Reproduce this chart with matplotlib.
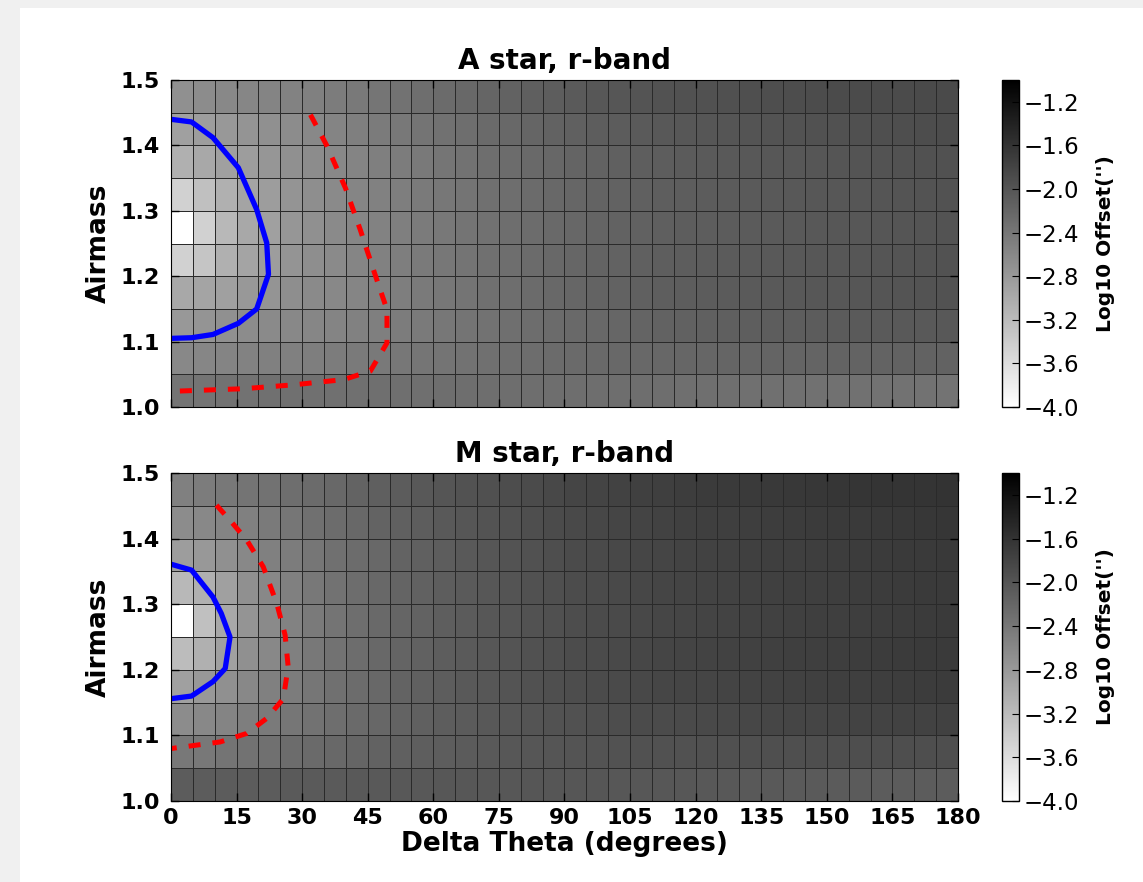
import numpy as np
import matplotlib
matplotlib.use('Agg')
import matplotlib.pyplot as plt
from matplotlib.patches import Rectangle

# grid of the maps (cell edges)
theta_edges = np.arange(0, 185, 5)
airmass_edges = np.linspace(1.0, 1.5, 11)

# log10 offset, rows from airmass 1.00-1.05 (first) to 1.45-1.50 (last)
a_star = np.array([
    [-2.36,-2.36,-2.34,-2.34,-2.32,-2.32,-2.32,-2.32,-2.32,-2.31,-2.31,-2.31,-2.30,-2.30,-2.30,-2.30,-2.29,-2.29,-2.29,-2.29,-2.30,-2.30,-2.30,-2.31,-2.31,-2.31,-2.32,-2.32,-2.32,-2.33,-2.33,-2.33,-2.34,-2.34,-2.34,-2.35],
    [-2.60,-2.58,-2.55,-2.53,-2.51,-2.51,-2.48,-2.46,-2.44,-2.42,-2.40,-2.38,-2.36,-2.34,-2.32,-2.30,-2.28,-2.26,-2.25,-2.24,-2.23,-2.22,-2.21,-2.20,-2.20,-2.19,-2.19,-2.18,-2.18,-2.18,-2.17,-2.17,-2.17,-2.16,-2.16,-2.16],
    [-2.79,-2.74,-2.69,-2.65,-2.62,-2.60,-2.58,-2.55,-2.52,-2.49,-2.46,-2.43,-2.40,-2.37,-2.34,-2.31,-2.28,-2.26,-2.24,-2.22,-2.20,-2.18,-2.16,-2.14,-2.13,-2.12,-2.11,-2.10,-2.09,-2.08,-2.07,-2.06,-2.06,-2.05,-2.05,-2.04],
    [-2.98,-2.93,-2.88,-2.79,-2.74,-2.67,-2.62,-2.60,-2.56,-2.52,-2.48,-2.44,-2.40,-2.36,-2.32,-2.29,-2.26,-2.23,-2.20,-2.17,-2.15,-2.13,-2.11,-2.09,-2.08,-2.07,-2.06,-2.05,-2.04,-2.03,-2.02,-2.01,-2.00,-1.99,-1.98,-1.97],
    [-3.45,-3.31,-3.07,-2.93,-2.84,-2.74,-2.67,-2.62,-2.57,-2.52,-2.48,-2.44,-2.40,-2.36,-2.32,-2.29,-2.26,-2.23,-2.20,-2.17,-2.15,-2.13,-2.11,-2.09,-2.08,-2.07,-2.06,-2.05,-2.04,-2.03,-2.02,-2.01,-2.00,-1.99,-1.98,-1.97],
    [-4.00,-3.45,-3.16,-2.98,-2.88,-2.76,-2.69,-2.62,-2.58,-2.53,-2.49,-2.45,-2.41,-2.37,-2.33,-2.30,-2.27,-2.24,-2.21,-2.18,-2.16,-2.14,-2.12,-2.10,-2.09,-2.08,-2.07,-2.06,-2.05,-2.04,-2.03,-2.02,-2.01,-2.00,-1.99,-1.98],
    [-3.45,-3.26,-3.07,-2.93,-2.84,-2.74,-2.67,-2.62,-2.57,-2.52,-2.48,-2.44,-2.40,-2.36,-2.32,-2.29,-2.26,-2.23,-2.20,-2.17,-2.15,-2.13,-2.11,-2.09,-2.08,-2.07,-2.06,-2.05,-2.04,-2.03,-2.02,-2.01,-2.00,-1.99,-1.98,-1.97],
    [-3.07,-2.98,-2.88,-2.84,-2.76,-2.69,-2.65,-2.60,-2.55,-2.50,-2.46,-2.42,-2.38,-2.34,-2.30,-2.27,-2.24,-2.21,-2.18,-2.15,-2.13,-2.11,-2.09,-2.07,-2.06,-2.05,-2.04,-2.03,-2.02,-2.01,-2.00,-1.99,-1.98,-1.97,-1.96,-1.95],
    [-2.88,-2.84,-2.79,-2.74,-2.69,-2.65,-2.60,-2.55,-2.50,-2.45,-2.41,-2.37,-2.33,-2.29,-2.25,-2.22,-2.19,-2.16,-2.13,-2.10,-2.08,-2.06,-2.04,-2.02,-2.01,-2.00,-1.99,-1.98,-1.97,-1.96,-1.95,-1.94,-1.93,-1.92,-1.91,-1.90],
    [-2.69,-2.65,-2.60,-2.58,-2.55,-2.53,-2.51,-2.46,-2.42,-2.38,-2.34,-2.30,-2.26,-2.22,-2.19,-2.16,-2.12,-2.09,-2.06,-2.03,-2.01,-1.99,-1.97,-1.96,-1.95,-1.94,-1.93,-1.92,-1.91,-1.90,-1.89,-1.89,-1.88,-1.88,-1.87,-1.87],
])

m_star = np.array([
    [-2.08,-2.08,-2.08,-2.08,-2.08,-2.06,-2.06,-2.06,-2.05,-2.05,-2.04,-2.04,-2.03,-2.03,-2.02,-2.02,-2.01,-2.01,-2.01,-2.01,-2.02,-2.02,-2.03,-2.03,-2.04,-2.04,-2.05,-2.05,-2.06,-2.06,-2.07,-2.07,-2.08,-2.08,-2.08,-2.08],
    [-2.41,-2.41,-2.36,-2.34,-2.32,-2.27,-2.25,-2.22,-2.19,-2.16,-2.13,-2.11,-2.09,-2.07,-2.05,-2.03,-2.01,-2.00,-1.99,-1.98,-1.97,-1.96,-1.95,-1.95,-1.94,-1.94,-1.93,-1.93,-1.93,-1.92,-1.92,-1.92,-1.92,-1.92,-1.92,-1.92],
    [-2.65,-2.60,-2.55,-2.48,-2.44,-2.39,-2.34,-2.29,-2.25,-2.21,-2.17,-2.13,-2.10,-2.07,-2.04,-2.01,-1.99,-1.97,-1.95,-1.93,-1.91,-1.89,-1.88,-1.87,-1.86,-1.85,-1.84,-1.83,-1.82,-1.81,-1.80,-1.79,-1.79,-1.78,-1.78,-1.77],
    [-2.88,-2.79,-2.69,-2.60,-2.51,-2.46,-2.39,-2.32,-2.27,-2.22,-2.17,-2.13,-2.09,-2.05,-2.02,-1.99,-1.96,-1.93,-1.91,-1.89,-1.87,-1.85,-1.83,-1.82,-1.81,-1.80,-1.79,-1.78,-1.77,-1.76,-1.75,-1.74,-1.73,-1.72,-1.71,-1.70],
    [-3.21,-3.07,-2.88,-2.69,-2.60,-2.51,-2.41,-2.34,-2.28,-2.23,-2.18,-2.14,-2.10,-2.06,-2.02,-1.99,-1.96,-1.93,-1.90,-1.88,-1.86,-1.84,-1.82,-1.80,-1.79,-1.78,-1.77,-1.76,-1.75,-1.74,-1.73,-1.72,-1.71,-1.70,-1.69,-1.68],
    [-4.00,-3.26,-2.98,-2.74,-2.62,-2.53,-2.44,-2.36,-2.29,-2.24,-2.19,-2.15,-2.11,-2.07,-2.03,-2.00,-1.97,-1.94,-1.91,-1.89,-1.87,-1.85,-1.83,-1.81,-1.80,-1.79,-1.78,-1.77,-1.76,-1.75,-1.74,-1.73,-1.72,-1.71,-1.70,-1.69],
    [-3.16,-3.07,-2.88,-2.69,-2.60,-2.51,-2.41,-2.34,-2.28,-2.23,-2.18,-2.14,-2.10,-2.06,-2.02,-1.99,-1.96,-1.93,-1.90,-1.88,-1.86,-1.84,-1.82,-1.80,-1.79,-1.78,-1.77,-1.76,-1.75,-1.74,-1.73,-1.72,-1.71,-1.70,-1.69,-1.68],
    [-2.84,-2.79,-2.69,-2.60,-2.51,-2.46,-2.39,-2.32,-2.27,-2.22,-2.17,-2.13,-2.09,-2.05,-2.01,-1.98,-1.95,-1.92,-1.89,-1.87,-1.85,-1.83,-1.81,-1.79,-1.78,-1.77,-1.76,-1.75,-1.74,-1.73,-1.72,-1.71,-1.70,-1.69,-1.68,-1.67],
    [-2.65,-2.60,-2.55,-2.51,-2.44,-2.39,-2.32,-2.27,-2.22,-2.17,-2.13,-2.09,-2.05,-2.01,-1.98,-1.95,-1.92,-1.89,-1.86,-1.84,-1.82,-1.80,-1.78,-1.76,-1.75,-1.74,-1.73,-1.72,-1.71,-1.70,-1.69,-1.68,-1.67,-1.66,-1.65,-1.64],
    [-2.51,-2.46,-2.41,-2.36,-2.34,-2.30,-2.26,-2.22,-2.17,-2.12,-2.08,-2.04,-2.00,-1.97,-1.94,-1.91,-1.88,-1.85,-1.82,-1.80,-1.78,-1.76,-1.74,-1.72,-1.70,-1.69,-1.68,-1.67,-1.66,-1.65,-1.64,-1.63,-1.62,-1.61,-1.61,-1.60],
])

# contour lines
a_blue_x = [0, 4.7, 9.6, 15.4, 19.6, 21.9, 22.3, 19.6, 15.4, 9.6, 4.7, 0]
a_blue_y = [1.440, 1.436, 1.412, 1.366, 1.302, 1.251, 1.203, 1.150, 1.128, 1.111, 1.106, 1.105]
a_red_x = [31.9, 35.7, 39.9, 43.3, 46.3, 49.4, 49.4, 45.6, 39.5, 28.1, 16.5, 0]
a_red_y = [1.447, 1.399, 1.335, 1.271, 1.210, 1.149, 1.098, 1.055, 1.042, 1.034, 1.028, 1.024]
m_blue_x = [0, 4.7, 9.6, 11.5, 13.5, 12.4, 9.6, 4.7, 0]
m_blue_y = [1.361, 1.352, 1.311, 1.286, 1.250, 1.202, 1.182, 1.160, 1.156]
m_red_x = [10.4, 13.5, 17.3, 21.1, 24.2, 26.1, 26.8, 25.7, 21.9, 17.3, 11.2, 0]
m_red_y = [1.451, 1.428, 1.398, 1.357, 1.301, 1.253, 1.205, 1.156, 1.126, 1.103, 1.090, 1.080]

titles = ['A star, r-band', 'M star, r-band']
cbar_ticks = [-1.2, -1.6, -2.0, -2.4, -2.8, -3.2, -3.6, -4.0]

fig = plt.figure(figsize=(11.43, 8.82), dpi=100)
fig.patch.set_facecolor('#f0f0f0')
fig.patches.append(Rectangle((20 / 1143, 0), 1, 1 - 8 / 882, transform=fig.transFigure,
                             facecolor='white', edgecolor='none', zorder=-1))

ax_boxes = [[0.1496, 0.5385, 0.6885, 0.3707], [0.1496, 0.0918, 0.6885, 0.3719]]
cb_boxes = [[0.8766, 0.5385, 0.0149, 0.3707], [0.8766, 0.0918, 0.0149, 0.3719]]
maps = [a_star, m_star]
blues = [(a_blue_x, a_blue_y), (m_blue_x, m_blue_y)]
reds = [(a_red_x, a_red_y), (m_red_x, m_red_y)]

for i in range(2):
    ax = fig.add_axes(ax_boxes[i])
    mesh = ax.pcolormesh(theta_edges, airmass_edges, maps[i], cmap='gray_r', vmin=-4.0, vmax=-1.0,
                         edgecolors='#2a2a2a', linewidth=0.6)
    ax.plot(blues[i][0], blues[i][1], color='b', lw=3.8)
    ax.plot(reds[i][0], reds[i][1], color='r', lw=3.6, ls=(0, (2.4, 2.4)))
    ax.set_xlim(0, 180)
    ax.set_ylim(1.0, 1.5)
    ax.set_xticks(np.arange(0, 181, 15))
    ax.set_yticks([1.0, 1.1, 1.2, 1.3, 1.4, 1.5])
    ax.tick_params(direction='in', top=True, right=True, length=6, width=1, labelsize=16)
    ax.tick_params(axis='y', pad=8)
    ax.tick_params(axis='x', pad=5)
    for lab in ax.get_xticklabels() + ax.get_yticklabels():
        lab.set_fontweight('bold')
    ax.set_ylabel('Airmass', fontsize=19, fontweight='bold', labelpad=6)
    ax.set_title(titles[i], fontsize=20, fontweight='bold', pad=8)
    if i == 0:
        ax.set_xticklabels([])
    else:
        ax.set_xlabel('Delta Theta (degrees)', fontsize=19, fontweight='bold', labelpad=2)

    cax = fig.add_axes(cb_boxes[i])
    cb = fig.colorbar(mesh, cax=cax, ticks=cbar_ticks)
    cb.ax.tick_params(direction='in', length=5, labelsize=16.5)
    cb.set_label("Log10 Offset('')", fontsize=14.5, fontweight='bold', labelpad=12)
    cb.outline.set_linewidth(1)

fig.savefig('out.png', dpi=100, facecolor=fig.get_facecolor())
